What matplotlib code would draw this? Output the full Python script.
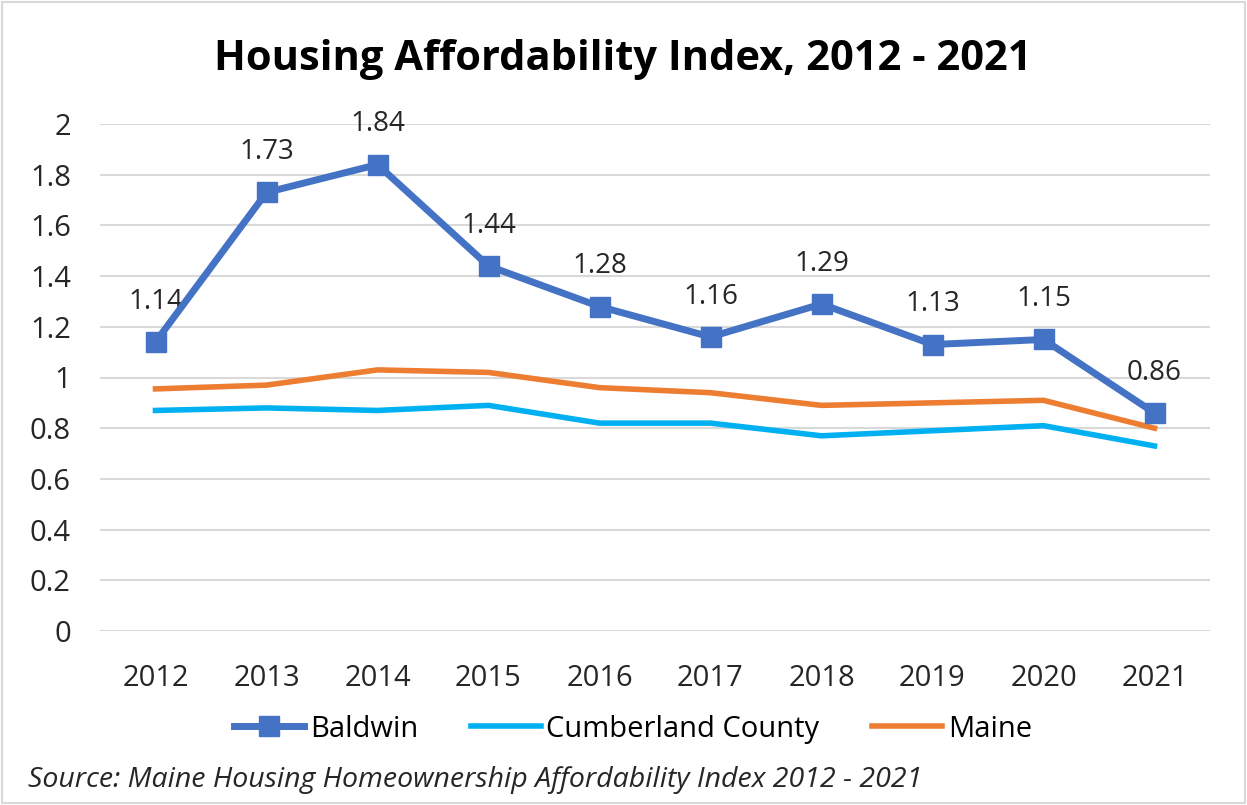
import numpy as np
import matplotlib.pyplot as plt
from matplotlib.patches import Rectangle

# data
years = ['2012', '2013', '2014', '2015', '2016', '2017', '2018', '2019', '2020', '2021']
baldwin = [1.14, 1.73, 1.84, 1.44, 1.28, 1.16, 1.29, 1.13, 1.15, 0.86]
cumberland = [0.87, 0.88, 0.87, 0.89, 0.82, 0.82, 0.77, 0.79, 0.81, 0.73]
maine = [0.955, 0.97, 1.03, 1.02, 0.96, 0.94, 0.89, 0.90, 0.91, 0.80]

plt.rcParams['font.family'] = ['Open Sans', 'DejaVu Sans']

fig = plt.figure(figsize=(12.47, 8.05), dpi=100)
ax = fig.add_axes([100/1247, 1-631/805, 1110/1247, (631-124)/805])

x = np.arange(len(years))
ax.plot(x, baldwin, color='#4472C4', lw=5, marker='s', ms=14, label='Baldwin', zorder=4)
ax.plot(x, cumberland, color='#00B0F0', lw=4, label='Cumberland County', zorder=3)
ax.plot(x, maine, color='#ED7D31', lw=4, label='Maine', zorder=3)

for xi, v in zip(x, baldwin):
    ax.annotate('%.2f' % v, (xi, v), xytext=(0, 29), textcoords='offset points',
                ha='center', va='center', fontsize=20, color='#262626')

ax.set_xlim(-0.5, len(years)-0.5)
ax.set_ylim(0, 2)
ax.set_yticks(np.arange(0, 2.01, 0.2))
ax.set_yticklabels(['0', '0.2', '0.4', '0.6', '0.8', '1', '1.2', '1.4', '1.6', '1.8', '2'])
ax.set_xticks(x)
ax.set_xticklabels(years)
ax.tick_params(axis='both', length=0, labelsize=21, colors='#262626')
ax.tick_params(axis='x', pad=24)
ax.tick_params(axis='y', pad=21)
ax.grid(axis='y', color='#D9D9D9', lw=1.5)
ax.set_axisbelow(True)
for s in ax.spines.values():
    s.set_visible(False)

fig.text(623/1247, 1-60/805, 'Housing Affordability Index, 2012 - 2021',
         ha='center', va='center', fontsize=30, fontweight='bold')

fig.legend(loc='center', bbox_to_anchor=(633/1247, 1-729/805), ncol=3, frameon=False,
           fontsize=21, handlelength=2.4, columnspacing=1.8, handletextpad=0.2)

fig.text(28/1247, 1-780/805, 'Source: Maine Housing Homeownership Affordability Index 2012 - 2021',
         ha='left', va='center', fontsize=20.5, style='italic', color='#262626')

fig.patches.append(Rectangle((0.002, 0.002), 0.996, 0.996, transform=fig.transFigure,
                             fill=False, edgecolor='#D9D9D9', lw=1.5))

fig.savefig('out.png', dpi=100)
